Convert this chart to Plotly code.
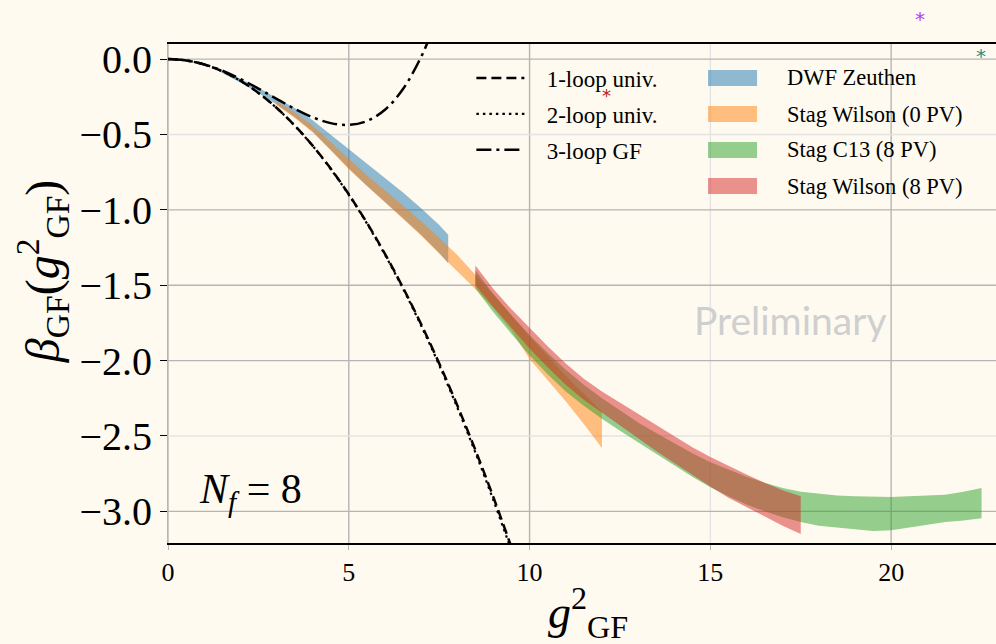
import plotly.graph_objects as go

# ---------------- data ----------------
# perturbative curves
g2_pt = [0.0, 0.5, 1.0, 1.5, 2.0, 2.5, 3.0, 3.5, 4.0, 4.5, 5.0, 5.5, 6.0, 6.5,
         7.0, 7.5, 8.0, 8.5, 9.0, 9.5]
beta_1loop = [0.0, -0.00897, -0.03588, -0.08074, -0.14354, -0.22428, -0.32296,
              -0.43958, -0.57414, -0.72665, -0.89710, -1.08549, -1.29182,
              -1.51610, -1.75832, -2.01848, -2.29658, -2.59262, -2.90660, -3.23853]
beta_2loop = [0.0, -0.00897, -0.03591, -0.08083, -0.14375, -0.22470, -0.32368,
              -0.44073, -0.57585, -0.72909, -0.90044, -1.08994, -1.29760,
              -1.52344, -1.76749, -2.02976, -2.31027, -2.60904, -2.92609, -3.26145]
g2_3loop = [0.0, 0.5, 1.0, 1.5, 2.0, 2.5, 3.0, 3.5, 4.0, 4.5, 5.0, 5.5, 6.0,
            6.5, 7.0, 7.25, 7.5]
beta_3loop = [0.0, -0.00892, -0.03517, -0.07707, -0.13188, -0.19572, -0.26358,
              -0.32938, -0.38590, -0.42482, -0.43669, -0.41096, -0.33597,
              -0.19892, 0.01405, 0.1536, 0.31797]

# DWF Zeuthen band
dwf_x = [1.45, 2.0, 2.5, 3.0, 3.5, 4.0, 4.5, 5.0, 5.5, 6.0, 6.5, 7.0, 7.5, 7.75]
dwf_hi = [-0.075, -0.13, -0.19, -0.255, -0.325, -0.405, -0.50, -0.597, -0.692,
          -0.788, -0.885, -0.99, -1.10, -1.165]
dwf_lo = [-0.085, -0.155, -0.225, -0.30, -0.385, -0.48, -0.60, -0.725, -0.84,
          -0.95, -1.055, -1.165, -1.285, -1.355]

# Stag Wilson (0 PV) band
sw0_x = [3.0, 3.5, 4.0, 4.5, 5.0, 5.5, 6.0, 6.5, 7.0, 7.5, 8.0, 8.5, 9.0, 9.5,
         10.0, 10.5, 11.0, 11.5, 12.0]
sw0_hi = [-0.28, -0.355, -0.44, -0.55, -0.665, -0.77, -0.87, -0.97, -1.075,
          -1.185, -1.30, -1.43, -1.56, -1.70, -1.84, -1.97, -2.10, -2.22, -2.34]
sw0_lo = [-0.305, -0.39, -0.485, -0.605, -0.73, -0.845, -0.955, -1.06, -1.17,
          -1.29, -1.41, -1.525, -1.655, -1.80, -1.99, -2.13, -2.27, -2.42, -2.58]

# Stag C13 (8 PV) band
c13_x = [8.5, 9.0, 9.5, 10.0, 10.5, 11.0, 11.5, 12.0, 12.5, 13.0, 13.5, 14.0,
         14.5, 15.0, 15.5, 16.0, 16.5, 17.0, 17.5, 18.0, 18.5, 19.0, 19.5, 20.0,
         20.5, 21.0, 21.5, 22.0, 22.5]
c13_hi = [-1.40, -1.56, -1.70, -1.83, -1.95, -2.06, -2.16, -2.25, -2.33, -2.41,
          -2.48, -2.55, -2.615, -2.675, -2.725, -2.77, -2.81, -2.845, -2.87,
          -2.885, -2.895, -2.90, -2.905, -2.905, -2.90, -2.895, -2.89, -2.87, -2.845]
c13_lo = [-1.52, -1.68, -1.825, -1.965, -2.09, -2.205, -2.30, -2.385, -2.465,
          -2.545, -2.62, -2.695, -2.77, -2.84, -2.90, -2.955, -3.00, -3.04,
          -3.07, -3.095, -3.11, -3.12, -3.13, -3.125, -3.11, -3.09, -3.07,
          -3.06, -3.045]

# Stag Wilson (8 PV) band
sw8_x = [8.5, 9.0, 9.5, 10.0, 10.5, 11.0, 11.5, 12.0, 12.5, 13.0, 13.5, 14.0,
         14.5, 15.0, 15.5, 16.0, 16.5, 17.0, 17.5]
sw8_hi = [-1.37, -1.525, -1.66, -1.785, -1.905, -2.02, -2.12, -2.205, -2.28,
          -2.355, -2.43, -2.505, -2.575, -2.64, -2.70, -2.755, -2.81, -2.86, -2.90]
sw8_lo = [-1.50, -1.645, -1.785, -1.92, -2.045, -2.16, -2.26, -2.345, -2.43,
          -2.515, -2.60, -2.68, -2.76, -2.835, -2.91, -2.975, -3.035, -3.095, -3.15]

x_ticks = [0, 5, 10, 15, 20]
y_ticks = [0.0, -0.5, -1.0, -1.5, -2.0, -2.5, -3.0]
x_light_grid = [15]
y_light_grid = [-0.5, -2.5]

band_names = ["DWF Zeuthen", "Stag Wilson (0 PV)", "Stag C13 (8 PV)",
              "Stag Wilson (8 PV)"]
band_data = [(dwf_x, dwf_hi, dwf_lo), (sw0_x, sw0_hi, sw0_lo),
             (c13_x, c13_hi, c13_lo), (sw8_x, sw8_hi, sw8_lo)]
band_colors = ["rgba(31,119,180,0.5)", "rgba(255,127,14,0.5)",
               "rgba(44,160,44,0.5)", "rgba(214,39,40,0.5)"]

BG = "#fefaef"
SERIF = "Liberation Serif"
NBSP = "\u00a0"

fig = go.Figure()

for i, (name, (bx, bhi, blo), col) in enumerate(zip(band_names, band_data, band_colors)):
    fig.add_trace(go.Scatter(
        x=list(bx) + list(bx)[::-1],
        y=list(bhi) + list(blo)[::-1],
        fill="toself", fillcolor=col, mode="lines",
        line=dict(width=0, color=col),
        name=name, showlegend=False, hoverinfo="skip"))

fig.add_trace(go.Scatter(x=g2_pt, y=beta_1loop, mode="lines",
                         name=NBSP * 3 + "1-loop univ.",
                         line=dict(color="black", width=2.5, dash="10px,5px", shape="spline"),
                         legendgroup="l1"))
fig.add_trace(go.Scatter(x=g2_pt, y=beta_2loop, mode="lines",
                         name=NBSP * 3 + "2-loop univ.",
                         line=dict(color="black", width=2.2, dash="2.5px,4px", shape="spline"),
                         legendgroup="l2"))
fig.add_trace(go.Scatter(x=g2_3loop, y=beta_3loop, mode="lines",
                         name=NBSP * 3 + "3-loop GF",
                         line=dict(color="black", width=2.5, dash="15px,5px,3px,5px", shape="spline"),
                         legendgroup="l3"))

# grid lines
shapes = []
for xv in x_ticks:
    shapes.append(dict(type="line", xref="x", yref="paper", x0=xv, x1=xv, y0=0, y1=1,
                       layer="below",
                       line=dict(color="#e3e3e3" if xv in x_light_grid else "#b5b5b5", width=1.4)))
for yv in y_ticks:
    shapes.append(dict(type="line", xref="paper", yref="y", x0=0, x1=1, y0=yv, y1=yv,
                       layer="below",
                       line=dict(color="#e3e3e3" if yv in y_light_grid else "#b5b5b5", width=1.4)))

annotations = [
    dict(text="<i>β</i><sub>GF</sub>(<i>g</i><sup>2</sup><sub>GF</sub>)",
         xref="paper", yref="paper", x=-0.152, y=0.545, textangle=-90,
         showarrow=False, font=dict(family=SERIF, size=48, color="black"),
         xanchor="center", yanchor="middle"),
    dict(text="<i>g</i><sup>2</sup><sub>GF</sub>",
         xref="paper", yref="paper", x=0.507, y=-0.14,
         showarrow=False, font=dict(family=SERIF, size=46, color="black"),
         xanchor="center", yanchor="middle"),
    dict(text="<i>N<sub>f</sub></i> = 8", xref="x", yref="y", x=2.27, y=-2.87,
         showarrow=False, font=dict(family=SERIF, size=42, color="black")),
    dict(text="Preliminary", xref="x", yref="y", x=17.23, y=-1.73,
         showarrow=False, font=dict(family="Lato", size=39, color="#cfcfcf")),
    dict(text="*", xref="paper", yref="paper", x=0.9165, y=1.078, showarrow=False,
         font=dict(family="DejaVu Sans", size=20, color="#b040ff")),
    dict(text="*", xref="paper", yref="paper", x=0.9905, y=1.004, showarrow=False,
         font=dict(family="DejaVu Sans", size=20, color="#2a9080")),
    dict(text="*", xref="paper", yref="paper", x=0.5295, y=0.922, showarrow=False,
         font=dict(family="DejaVu Sans", size=18, color="#b52020")),
]

# legend for the bands (swatches + labels), rows placed in paper units
band_leg_rows = [0.9319, 0.8597, 0.7876, 0.7154]
for name, col, ry in zip(band_names, band_colors, band_leg_rows):
    shapes.append(dict(type="rect", xref="paper", yref="paper",
                       x0=0.6522, x1=0.7114, y0=ry - 0.016, y1=ry + 0.016,
                       fillcolor=col, line=dict(width=0), layer="above"))
    annotations.append(dict(text=name, xref="paper", yref="paper", x=0.7452, y=ry,
                            xanchor="left", yanchor="middle", showarrow=False,
                            font=dict(family=SERIF, size=22.5, color="black")))

fig.update_layout(
    width=996, height=644,
    margin=dict(l=168, r=0, t=44, b=101),
    paper_bgcolor=BG, plot_bgcolor=BG,
    font=dict(family=SERIF, color="black"),
    shapes=shapes, annotations=annotations,
    legend=dict(x=0.3664, y=0.975, xanchor="left", yanchor="top",
                bgcolor="rgba(0,0,0,0)", borderwidth=0, itemwidth=48,
                tracegroupgap=3, font=dict(family=SERIF, size=23, color="black")),
    xaxis=dict(range=[0, 22.9], tickvals=x_ticks, showgrid=False, zeroline=False,
               showline=True, linecolor="black", linewidth=2, mirror=True,
               ticks="outside", ticklen=5, tickcolor="#b5b5b5",
               tickfont=dict(family=SERIF, size=26, color="black")),
    yaxis=dict(range=[-3.21, 0.1], tickvals=y_ticks, tickformat=".1f",
               showgrid=False, zeroline=False, showline=True, linecolor="#b5b5b5",
               linewidth=1, ticks="outside", ticklen=7, tickcolor="black",
               tickfont=dict(family=SERIF, size=40, color="black")),
    showlegend=True,
)

fig.write_html("out.html")
